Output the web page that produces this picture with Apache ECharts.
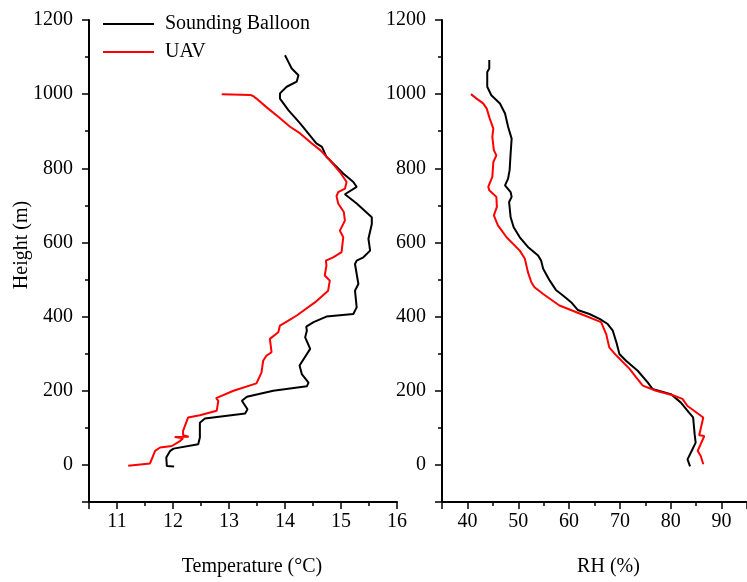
<!DOCTYPE html>
<html>
<head>
<meta charset="utf-8">
<script src="https://cdn.jsdelivr.net/npm/echarts@6/dist/echarts.min.js"></script>
<style>
  html, body { margin: 0; padding: 0; background: #fff; }
  #chart { width: 747px; height: 582px; }
</style>
</head>
<body>
<div id="chart"></div>
<script>
// temperature profile, sounding balloon
const balloonTempH = [-4, -3, 20, 38, 44, 56, 74, 114, 125, 139, 150, 173, 184, 200, 212, 222, 245, 268, 313, 344, 362, 373, 385, 400, 407, 425, 470, 488, 542, 551, 560, 578, 610, 650, 668, 705, 730, 750, 763, 786, 813, 831, 858, 867, 921, 957, 988, 1002, 1020, 1034, 1051, 1069, 1087, 1105];
const balloonTemp = [12.02, 11.89, 11.88, 11.95, 12.01, 12.45, 12.48, 12.48, 12.57, 13.29, 13.33, 13.23, 13.32, 13.79, 14.39, 14.42, 14.30, 14.26, 14.45, 14.36, 14.39, 14.38, 14.51, 14.74, 15.22, 15.28, 15.25, 15.31, 15.25, 15.28, 15.40, 15.52, 15.49, 15.55, 15.55, 15.28, 15.07, 15.28, 15.22, 15.04, 14.86, 14.74, 14.66, 14.56, 14.27, 14.06, 13.91, 13.91, 14.03, 14.21, 14.24, 14.12, 14.06, 14.00];

// temperature profile, UAV
const uavTempH = [-2, 4, 38, 47, 51, 65, 72, 75, 76, 80, 92, 128, 134, 146, 173, 180, 200, 220, 249, 281, 295, 304, 340, 358, 376, 389, 403, 439, 470, 497, 511, 538, 551, 560, 574, 614, 632, 659, 682, 705, 725, 736, 745, 763, 790, 822, 849, 867, 894, 912, 939, 961, 988, 995, 998, 1000];
const uavTemp = [11.20, 11.59, 11.68, 11.77, 11.98, 12.13, 12.18, 12.03, 12.28, 12.18, 12.18, 12.27, 12.48, 12.78, 12.81, 12.77, 13.08, 13.49, 13.58, 13.61, 13.67, 13.76, 13.73, 13.88, 13.91, 14.06, 14.21, 14.54, 14.77, 14.80, 14.71, 14.74, 14.73, 14.86, 15.01, 15.04, 14.98, 15.07, 15.05, 14.95, 14.92, 14.95, 15.07, 15.10, 14.98, 14.80, 14.63, 14.48, 14.27, 14.09, 13.88, 13.70, 13.49, 13.43, 13.38, 12.87];

// RH profile, sounding balloon
const balloonRhH = [-4, 15, 43, 60, 83, 128, 141, 168, 191, 205, 222, 254, 281, 299, 331, 362, 380, 394, 407, 418, 439, 457, 472, 497, 529, 551, 565, 588, 614, 641, 668, 709, 723, 736, 754, 772, 795, 840, 880, 912, 948, 975, 997, 1020, 1060, 1069, 1092];
const balloonRh = [83.8, 83.3, 84.3, 84.9, 84.7, 84.4, 83.6, 82.0, 80.0, 76.4, 75.5, 73.5, 71.2, 69.9, 69.3, 68.6, 67.6, 66.0, 64.0, 61.7, 60.4, 58.8, 57.4, 56.2, 54.9, 54.5, 53.9, 51.9, 50.3, 49.1, 48.5, 48.2, 48.7, 48.5, 47.4, 48.0, 48.3, 48.5, 48.7, 48.0, 47.4, 46.4, 44.7, 43.9, 43.9, 44.3, 44.3];

// RH profile, UAV
const uavRhH = [2, 24, 38, 78, 80, 128, 159, 178, 188, 200, 214, 236, 259, 295, 317, 353, 385, 405, 430, 461, 479, 492, 520, 556, 578, 614, 646, 673, 696, 723, 741, 750, 777, 817, 835, 849, 885, 907, 934, 961, 975, 988, 1000];
const uavRh = [86.4, 85.9, 85.3, 86.6, 85.6, 86.4, 83.3, 82.3, 80.4, 77.1, 74.5, 73.2, 71.9, 69.3, 67.9, 67.3, 66.3, 62.7, 58.1, 54.9, 53.2, 52.6, 51.9, 51.3, 50.3, 47.7, 46.0, 45.2, 45.8, 45.7, 44.3, 44.1, 44.9, 45.1, 45.7, 45.2, 44.9, 45.1, 44.4, 43.8, 43.1, 41.8, 40.7];

const seriesNames = ["Sounding Balloon", "UAV"];

const FONT = '"Liberation Serif", "Times New Roman", serif';

function pairs(xs, hs) {
  return xs.map((v, i) => [v, hs[i]]);
}

function label(margin, extra) {
  return Object.assign({
    color: "#000", fontFamily: FONT, fontSize: 20, margin: margin,
    showMinLabel: false,
    formatter: v => String(v)
  }, extra || {});
}

function axisBase(extra) {
  return Object.assign({
    type: "value",
    splitLine: { show: false },
    axisLine: { show: true, onZero: false, lineStyle: { color: "#000", width: 2 } },
    axisTick: { show: true, inside: false, length: 7, lineStyle: { color: "#000", width: 1.5 } },
    minorTick: { show: true, splitNumber: 2, length: 4, lineStyle: { color: "#000", width: 1.5 } },
    nameTextStyle: { color: "#000", fontFamily: FONT, fontSize: 20 }
  }, extra);
}

const chart = echarts.init(document.getElementById("chart"));
chart.setOption({
  animation: false,
  backgroundColor: "#fff",
  grid: [
    { left: 89, top: 20, width: 308, height: 482 },
    { left: 442, top: 20, width: 306, height: 482 }
  ],
  legend: {
    data: seriesNames,
    orient: "vertical",
    left: 98,
    top: 9,
    icon: "rect",
    itemWidth: 51,
    itemHeight: 2,
    itemGap: 8,
    textStyle: { color: "#000", fontFamily: FONT, fontSize: 20, lineHeight: 20, padding: [0, 0, 0, 6] }
  },
  xAxis: [
    axisBase({
      gridIndex: 0, min: 10.5, max: 16, minInterval: 1, maxInterval: 1,
      name: "Temperature (°C)", nameLocation: "middle", nameGap: 55,
      nameTextStyle: { color: "#000", fontFamily: FONT, fontSize: 20, padding: [0, 0, 0, 18] },
      axisLabel: label(10)
    }),
    axisBase({
      gridIndex: 1, min: 35, max: 95, minInterval: 10, maxInterval: 10,
      name: "RH (%)", nameLocation: "middle", nameGap: 55,
      nameTextStyle: { color: "#000", fontFamily: FONT, fontSize: 20, padding: [0, 0, 0, 28] },
      axisLabel: label(10, { showMaxLabel: false })
    })
  ],
  yAxis: [
    axisBase({
      gridIndex: 0, min: -100, max: 1200, splitNumber: 6, minInterval: 200, maxInterval: 200,
      name: "Height (m)", nameLocation: "middle", nameGap: 57, nameMoveOverlap: false,
      nameTextStyle: { color: "#000", fontFamily: FONT, fontSize: 20, padding: [0, 0, 0, 32] },
      axisLabel: label(16)
    }),
    axisBase({
      gridIndex: 1, min: -100, max: 1200, splitNumber: 6, minInterval: 200, maxInterval: 200,
      axisLabel: label(16)
    })
  ],
  series: [
    {
      name: seriesNames[0], type: "line", xAxisIndex: 0, yAxisIndex: 0,
      data: pairs(balloonTemp, balloonTempH),
      showSymbol: false, symbol: "none",
      lineStyle: { color: "#000", width: 2 }, itemStyle: { color: "#000" }
    },
    {
      name: seriesNames[1], type: "line", xAxisIndex: 0, yAxisIndex: 0,
      data: pairs(uavTemp, uavTempH),
      showSymbol: false, symbol: "none",
      lineStyle: { color: "#ff0000", width: 2 }, itemStyle: { color: "#ff0000" }
    },
    {
      name: seriesNames[0], type: "line", xAxisIndex: 1, yAxisIndex: 1,
      data: pairs(balloonRh, balloonRhH),
      showSymbol: false, symbol: "none",
      lineStyle: { color: "#000", width: 2 }, itemStyle: { color: "#000" }
    },
    {
      name: seriesNames[1], type: "line", xAxisIndex: 1, yAxisIndex: 1,
      data: pairs(uavRh, uavRhH),
      showSymbol: false, symbol: "none",
      lineStyle: { color: "#ff0000", width: 2 }, itemStyle: { color: "#ff0000" }
    }
  ]
});
</script>
</body>
</html>
